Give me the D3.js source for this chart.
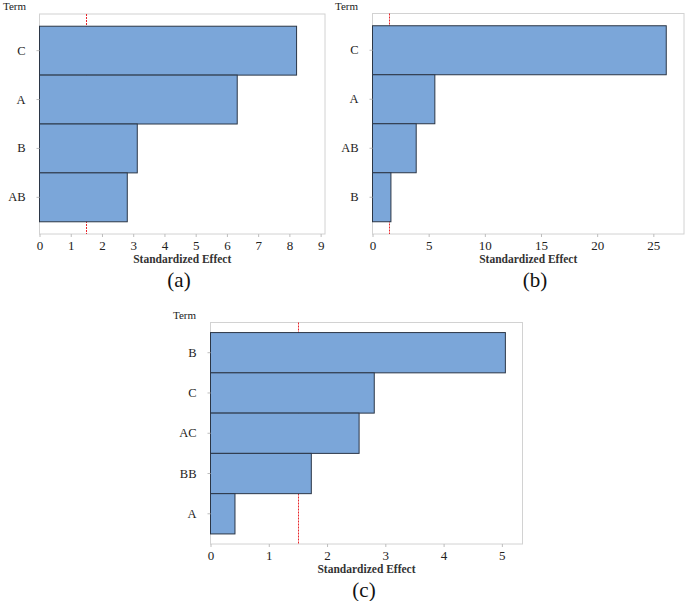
<!DOCTYPE html>
<html>
<head>
<meta charset="utf-8">
<script src="https://cdn.jsdelivr.net/npm/d3@7"></script>
<style>
    body { margin: 0; background: #fff; }
    svg text { font-family: "Liberation Serif", "Times New Roman", Times, serif; }
</style>
</head>
<body>
<svg width="685" height="601"></svg>
<script>
// panel (a)
const termsA = ["C", "A", "B", "AB"];
const effectsA = [8.23, 6.33, 3.13, 2.81];
const ticksA = [0, 1, 2, 3, 4, 5, 6, 7, 8, 9];
const refA = 1.49;

// panel (b)
const termsB = ["C", "A", "AB", "B"];
const effectsB = [26.15, 5.55, 3.89, 1.64];
const ticksB = [0, 5, 10, 15, 20, 25];
const refB = 1.51;

// panel (c)
const termsC = ["B", "C", "AC", "BB", "A"];
const effectsC = [5.06, 2.81, 2.55, 1.73, 0.42];
const ticksC = [0, 1, 2, 3, 4, 5];
const refC = 1.5;

const svg = d3.select("svg");

function drawPanel(terms, effects, ticks, ref, xMax, box, caption) {
    let data = terms.map((t, i) => ({term: t, value: effects[i]}));
    let x = d3.scaleLinear()
        .domain([0, xMax])
        .range([box.left, box.right]);
    let y = d3.scaleBand()
        .domain(terms)
        .range([box.top, box.bottom])
        .paddingInner(0)
        .paddingOuter(0.25);
    let g = svg.append("g");

    // frame
    g.append("rect")
        .attr("x", box.left)
        .attr("y", box.top)
        .attr("width", box.right - box.left)
        .attr("height", box.bottom - box.top)
        .attr("fill", "none")
        .attr("stroke", "#d2d2d2")
        .attr("stroke-width", 1);

    // reference line sits behind the bars, snapped to a pixel centre
    let refX = Math.round(x(ref)) + 0.5;
    g.append("line")
        .attr("x1", refX)
        .attr("x2", refX)
        .attr("y1", box.top)
        .attr("y2", box.bottom)
        .attr("stroke", "#e8262b")
        .attr("stroke-width", 1)
        .attr("stroke-dasharray", "2,1");

    g.selectAll("rect.bar")
        .data(data)
        .join("rect")
        .classed("bar", true)
        .attr("x", x(0))
        .attr("y", d => y(d.term))
        .attr("width", d => x(d.value) - x(0))
        .attr("height", y.bandwidth())
        .attr("fill", "#7ba6d9")
        .attr("stroke", "#2b3646")
        .attr("stroke-width", 1);

    let xAxis = d3.axisBottom(x)
        .tickValues(ticks)
        .tickFormat(d3.format("d"))
        .tickSize(3)
        .tickPadding(4)
        .tickSizeOuter(0);
    let xg = g.append("g")
        .attr("transform", "translate(0," + box.bottom + ")")
        .call(xAxis)
        .attr("font-family", null);
    xg.select(".domain").remove();
    xg.selectAll(".tick line").attr("stroke", "#bdbdbd");
    xg.selectAll(".tick text")
        .attr("fill", "#222")
        .style("font-size", "13px");

    let yAxis = d3.axisLeft(y)
        .tickSize(3)
        .tickPadding(11)
        .tickSizeOuter(0);
    let yg = g.append("g")
        .attr("transform", "translate(" + box.left + ",0)")
        .call(yAxis)
        .attr("font-family", null);
    yg.select(".domain").remove();
    yg.selectAll(".tick line").attr("stroke", "#bdbdbd");
    yg.selectAll(".tick text")
        .attr("fill", "#222")
        .style("font-size", "12.5px");

    g.append("text")
        .attr("x", box.termX)
        .attr("y", box.top - 4)
        .attr("font-size", "11px")
        .attr("fill", "#222")
        .text("Term");

    g.append("text")
        .attr("x", (box.left + box.right) / 2)
        .attr("y", box.bottom + 29)
        .attr("text-anchor", "middle")
        .attr("font-size", "11.5px")
        .attr("font-weight", "bold")
        .attr("fill", "#333")
        .text("Standardized Effect");

    g.append("text")
        .attr("x", box.capX)
        .attr("y", box.bottom + 53)
        .attr("text-anchor", "middle")
        .attr("font-size", "21px")
        .attr("fill", "#111")
        .text(caption);
}

drawPanel(termsA, effectsA, ticksA, refA, 9.14,
    {left: 39.5, right: 325, top: 14, bottom: 234, termX: 3, capX: 179}, "(a)");
drawPanel(termsB, effectsB, ticksB, refB, 27.73,
    {left: 372.5, right: 684, top: 13.5, bottom: 234, termX: 335, capX: 535}, "(b)");
drawPanel(termsC, effectsC, ticksC, refC, 5.354,
    {left: 210.5, right: 522.5, top: 322.5, bottom: 544, termX: 173, capX: 364}, "(c)");
</script>
</body>
</html>
